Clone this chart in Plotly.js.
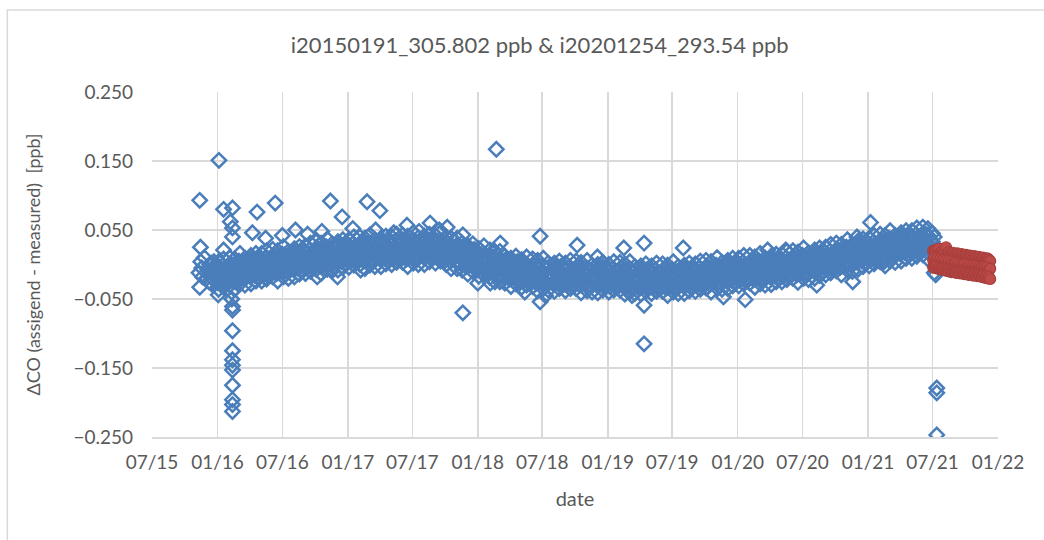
<!DOCTYPE html>
<html>
<head>
<meta charset="utf-8">
<script src="https://cdn.plot.ly/plotly-3.0.1.min.js"></script>
<style>
  body { margin: 0; background: #fff; }
  #chart { width: 1044px; height: 540px; }
</style>
</head>
<body>
<div id="chart"></div>
<script>
// i20150191 - regular measurements, 4 sampling days per month, 3 readings each
var blueMonths = [
  '2016-01','2016-02','2016-03','2016-04','2016-05','2016-06','2016-07','2016-08','2016-09','2016-10','2016-11','2016-12',
  '2017-01','2017-02','2017-03','2017-04','2017-05','2017-06','2017-07','2017-08','2017-09','2017-10','2017-11','2017-12',
  '2018-01','2018-02','2018-03','2018-04','2018-05','2018-06','2018-07','2018-08','2018-09','2018-10','2018-11','2018-12',
  '2019-01','2019-02','2019-03','2019-04','2019-05','2019-06','2019-07','2019-08','2019-09','2019-10','2019-11','2019-12',
  '2020-01','2020-02','2020-03','2020-04','2020-05','2020-06','2020-07','2020-08','2020-09','2020-10','2020-11','2020-12',
  '2021-01','2021-02','2021-03','2021-04','2021-05','2021-06'
];
var sampleDays = ['01', '08', '15', '22'];
var blueVals = [
  -0.003,-0.014,-0.026,-0.006,-0.018,-0.028,-0.002,-0.013,-0.025,-0.005,-0.017,-0.027,
  -0.002,-0.013,-0.024,0.001,-0.009,-0.021,-0.001,-0.012,-0.025,-0.004,-0.016,-0.023,
  0.005,-0.006,-0.018,0.003,-0.010,-0.020,0.001,-0.009,-0.021,0.004,-0.005,-0.017,
  0.006,-0.005,-0.017,0.007,-0.001,-0.015,0.005,-0.008,-0.016,0.008,-0.004,-0.018,
  0.009,-0.002,-0.014,0.006,-0.006,-0.016,0.010,-0.001,-0.013,0.007,-0.005,-0.015,
  0.010,-0.001,-0.012,0.013,0.003,-0.009,0.011,0.000,-0.013,0.008,-0.004,-0.011,
  0.015,0.004,-0.008,0.013,0.000,-0.010,0.011,0.001,-0.011,0.014,0.005,-0.007,
  0.016,0.005,-0.007,0.017,0.009,-0.005,0.015,0.002,-0.006,0.018,0.006,-0.008,
  0.020,0.009,-0.003,0.017,0.005,-0.005,0.021,0.010,-0.002,0.018,0.006,-0.004,
  0.021,0.010,-0.001,0.024,0.014,0.002,0.022,0.011,-0.002,0.019,0.007,0.000,
  0.026,0.015,0.003,0.024,0.011,0.001,0.022,0.012,0.000,0.025,0.016,0.004,
  0.026,0.015,0.003,0.027,0.019,0.005,0.025,0.012,0.004,0.028,0.016,0.002,
  0.029,0.018,0.006,0.026,0.014,0.004,0.030,0.019,0.007,0.027,0.015,0.005,
  0.028,0.017,0.006,0.031,0.021,0.009,0.029,0.018,0.005,0.026,0.014,0.007,
  0.032,0.021,0.009,0.030,0.017,0.007,0.028,0.018,0.006,0.031,0.022,0.010,
  0.031,0.020,0.008,0.032,0.024,0.010,0.030,0.017,0.009,0.033,0.021,0.007,
  0.033,0.022,0.010,0.030,0.018,0.008,0.034,0.023,0.011,0.031,0.019,0.009,
  0.031,0.020,0.009,0.034,0.024,0.012,0.032,0.021,0.008,0.029,0.017,0.010,
  0.035,0.024,0.012,0.033,0.020,0.010,0.031,0.021,0.009,0.034,0.025,0.013,
  0.034,0.023,0.011,0.035,0.027,0.013,0.033,0.020,0.012,0.036,0.024,0.010,
  0.035,0.024,0.012,0.032,0.020,0.010,0.036,0.025,0.013,0.033,0.021,0.011,
  0.028,0.017,0.006,0.031,0.021,0.009,0.029,0.018,0.005,0.026,0.014,0.007,
  0.027,0.016,0.004,0.025,0.012,0.002,0.023,0.013,0.001,0.026,0.017,0.005,
  0.020,0.009,-0.003,0.021,0.013,-0.001,0.019,0.006,-0.002,0.022,0.010,-0.004,
  0.016,0.005,-0.007,0.013,0.001,-0.009,0.017,0.006,-0.006,0.014,0.002,-0.008,
  0.009,-0.002,-0.013,0.012,0.002,-0.010,0.010,-0.001,-0.014,0.007,-0.005,-0.012,
  0.008,-0.003,-0.015,0.006,-0.007,-0.017,0.004,-0.006,-0.018,0.007,-0.002,-0.014,
  0.002,-0.009,-0.021,0.003,-0.005,-0.019,0.001,-0.012,-0.020,0.004,-0.008,-0.022,
  0.000,-0.011,-0.023,-0.003,-0.015,-0.025,0.001,-0.010,-0.022,-0.002,-0.014,-0.024,
  -0.004,-0.015,-0.026,-0.001,-0.011,-0.023,-0.003,-0.014,-0.027,-0.006,-0.018,-0.025,
  -0.002,-0.013,-0.025,-0.004,-0.017,-0.027,-0.006,-0.016,-0.028,-0.003,-0.012,-0.024,
  -0.005,-0.016,-0.028,-0.004,-0.012,-0.026,-0.006,-0.019,-0.027,-0.003,-0.015,-0.029,
  -0.005,-0.016,-0.028,-0.008,-0.020,-0.030,-0.004,-0.015,-0.027,-0.007,-0.019,-0.029,
  -0.007,-0.018,-0.029,-0.004,-0.014,-0.026,-0.006,-0.017,-0.030,-0.009,-0.021,-0.028,
  -0.005,-0.016,-0.028,-0.007,-0.020,-0.030,-0.009,-0.019,-0.031,-0.006,-0.015,-0.027,
  -0.007,-0.018,-0.030,-0.006,-0.014,-0.028,-0.008,-0.021,-0.029,-0.005,-0.017,-0.031,
  -0.007,-0.018,-0.030,-0.010,-0.022,-0.032,-0.006,-0.017,-0.029,-0.009,-0.021,-0.031,
  -0.009,-0.020,-0.031,-0.006,-0.016,-0.028,-0.008,-0.019,-0.032,-0.011,-0.023,-0.030,
  -0.007,-0.018,-0.030,-0.009,-0.022,-0.032,-0.011,-0.021,-0.033,-0.008,-0.017,-0.029,
  -0.009,-0.020,-0.032,-0.008,-0.016,-0.030,-0.010,-0.023,-0.031,-0.007,-0.019,-0.033,
  -0.009,-0.020,-0.032,-0.012,-0.024,-0.034,-0.008,-0.019,-0.031,-0.011,-0.023,-0.033,
  -0.011,-0.022,-0.033,-0.008,-0.018,-0.030,-0.010,-0.021,-0.034,-0.013,-0.025,-0.032,
  -0.007,-0.018,-0.030,-0.009,-0.022,-0.032,-0.011,-0.021,-0.033,-0.008,-0.017,-0.029,
  -0.008,-0.019,-0.031,-0.007,-0.015,-0.029,-0.009,-0.022,-0.030,-0.006,-0.018,-0.032,
  -0.006,-0.017,-0.029,-0.009,-0.021,-0.031,-0.005,-0.016,-0.028,-0.008,-0.020,-0.030,
  -0.006,-0.017,-0.028,-0.003,-0.013,-0.025,-0.005,-0.016,-0.029,-0.008,-0.020,-0.027,
  -0.001,-0.012,-0.024,-0.003,-0.016,-0.026,-0.005,-0.015,-0.027,-0.002,-0.011,-0.023,
  -0.001,-0.012,-0.024,0.000,-0.008,-0.022,-0.002,-0.015,-0.023,0.001,-0.011,-0.025,
  0.002,-0.009,-0.021,-0.001,-0.013,-0.023,0.003,-0.008,-0.020,0.000,-0.012,-0.022,
  0.001,-0.010,-0.021,0.004,-0.006,-0.018,0.002,-0.009,-0.022,-0.001,-0.013,-0.020,
  0.005,-0.006,-0.018,0.003,-0.010,-0.020,0.001,-0.009,-0.021,0.004,-0.005,-0.017,
  0.005,-0.006,-0.018,0.006,-0.002,-0.016,0.004,-0.009,-0.017,0.007,-0.005,-0.019,
  0.008,-0.003,-0.015,0.005,-0.007,-0.017,0.009,-0.002,-0.014,0.006,-0.006,-0.016,
  0.008,-0.003,-0.014,0.011,0.001,-0.011,0.009,-0.002,-0.015,0.006,-0.006,-0.013,
  0.013,0.002,-0.010,0.011,-0.002,-0.012,0.009,-0.001,-0.013,0.012,0.003,-0.009,
  0.014,0.003,-0.009,0.015,0.007,-0.007,0.013,0.000,-0.008,0.016,0.004,-0.010,
  0.018,0.007,-0.005,0.015,0.003,-0.007,0.019,0.008,-0.004,0.016,0.004,-0.006,
  0.019,0.008,-0.003,0.022,0.012,0.000,0.020,0.009,-0.004,0.017,0.005,-0.002,
  0.025,0.014,0.002,0.023,0.010,0.000,0.021,0.011,-0.001,0.024,0.015,0.003,
  0.027,0.016,0.004,0.028,0.020,0.006,0.026,0.013,0.005,0.029,0.017,0.003,
  0.031,0.020,0.008,0.028,0.016,0.006,0.032,0.021,0.009,0.029,0.017,0.007,
  0.032,0.021,0.010,0.035,0.025,0.013,0.033,0.022,0.009,0.030,0.018,0.011,
  0.038,0.027,0.015,0.036,0.023,0.013,0.034,0.024,0.012,0.037,0.028,0.016,
  0.039,0.028,0.016,0.040,0.032,0.018,0.038,0.025,0.017,0.041,0.029,0.015,
  0.042,0.031,0.019,0.039,0.027,0.017,0.043,0.032,0.020,0.040,0.028,0.018,
  0.042,0.031,0.020,0.045,0.035,0.023,0.043,0.032,0.019,0.040,0.028,0.021
];

// i20150191 - edge readings (high, low) on two more days per month
var edgeDays = ['04', '18'];
var blueEdgeVals = [
  0.004,-0.036,0.008,-0.033,   0.010,-0.030,0.008,-0.036,   0.016,-0.028,0.009,-0.030,
  0.013,-0.028,0.016,-0.024,   0.016,-0.024,0.020,-0.021,   0.022,-0.018,0.020,-0.024,
  0.026,-0.018,0.019,-0.020,   0.023,-0.018,0.026,-0.014,   0.027,-0.013,0.031,-0.010,
  0.033,-0.007,0.031,-0.013,   0.037,-0.007,0.030,-0.009,   0.033,-0.008,0.036,-0.004,
  0.036,-0.004,0.040,-0.001,   0.040,0.000,0.038,-0.006,    0.043,-0.001,0.036,-0.003,
  0.038,-0.003,0.041,0.001,    0.040,0.000,0.044,0.003,     0.043,0.003,0.041,-0.003,
  0.046,0.002,0.039,0.000,     0.041,0.000,0.044,0.004,     0.042,0.002,0.046,0.005,
  0.040,0.000,0.038,-0.006,    0.038,-0.006,0.031,-0.008,   0.027,-0.014,0.030,-0.010,
  0.023,-0.017,0.027,-0.014,   0.021,-0.019,0.019,-0.025,   0.019,-0.025,0.012,-0.027,
  0.009,-0.032,0.012,-0.028,   0.007,-0.033,0.011,-0.030,   0.008,-0.032,0.006,-0.038,
  0.009,-0.035,0.002,-0.037,   0.002,-0.039,0.005,-0.035,   0.002,-0.038,0.006,-0.035,
  0.005,-0.035,0.003,-0.041,   0.006,-0.038,-0.001,-0.040,  0.000,-0.041,0.003,-0.037,
  0.000,-0.040,0.004,-0.037,   0.003,-0.037,0.001,-0.043,   0.004,-0.040,-0.003,-0.042,
  -0.002,-0.043,0.001,-0.039,  -0.002,-0.042,0.002,-0.039,  0.001,-0.039,-0.001,-0.045,
  0.004,-0.040,-0.003,-0.042,  -0.001,-0.042,0.002,-0.038,  0.001,-0.039,0.005,-0.036,
  0.006,-0.034,0.004,-0.040,   0.010,-0.034,0.003,-0.036,   0.006,-0.035,0.009,-0.031,
  0.009,-0.031,0.013,-0.028,   0.013,-0.027,0.011,-0.033,   0.016,-0.028,0.009,-0.030,
  0.012,-0.029,0.015,-0.025,   0.015,-0.025,0.019,-0.022,   0.020,-0.020,0.018,-0.026,
  0.024,-0.020,0.017,-0.022,   0.021,-0.020,0.024,-0.016,   0.025,-0.015,0.029,-0.012,
  0.031,-0.009,0.029,-0.015,   0.036,-0.008,0.029,-0.010,   0.034,-0.007,0.037,-0.003,
  0.038,-0.002,0.042,0.001,    0.044,0.004,0.042,-0.002,    0.049,0.005,0.042,0.003,
  0.046,0.005,0.049,0.009,     0.049,0.009,0.053,0.012,     0.054,0.014,0.052,0.008
];

// i20150191 - start-up readings and scattered outliers
var blueExtraDates = [
  '2015-11-10','2015-11-12','2015-11-12','2015-11-14','2015-11-15','2015-11-18','2015-11-20','2015-11-25',
  '2015-12-01','2015-12-05','2015-12-08','2015-12-10',
  '2015-12-15','2015-12-15','2015-12-15','2015-12-15','2015-12-22','2015-12-22','2015-12-22','2015-12-22',
  '2016-01-03','2016-01-05','2016-01-18','2016-01-18','2016-02-06',
  '2016-02-10','2016-02-10','2016-02-12','2016-02-12','2016-02-12','2016-02-12','2016-02-12','2016-02-12','2016-02-12',
  '2016-02-12','2016-02-12','2016-02-12','2016-02-12','2016-02-12','2016-02-12','2016-02-12',
  '2016-04-08','2016-04-21','2016-05-15','2016-06-11','2016-07-01','2016-08-07','2016-09-10','2016-10-07',
  '2016-10-20','2016-11-13','2016-12-03','2016-12-16','2017-01-15','2017-02-06','2017-02-24','2017-03-20',
  '2017-04-01','2017-05-10','2017-06-16','2017-07-20','2017-08-20','2017-09-15','2017-10-07','2017-11-20',
  '2017-11-20','2018-01-01','2018-02-05','2018-02-22','2018-03-05','2018-05-13','2018-06-25','2018-06-25',
  '2018-07-10','2018-10-07','2018-12-03','2019-02-15','2019-03-10','2019-04-13','2019-04-13','2019-04-13',
  '2019-08-01','2019-10-07','2019-11-22','2020-01-22','2020-03-25','2020-05-15','2020-08-10','2020-11-19',
  '2020-12-01','2021-01-08','2021-02-15',
  '2021-07-01','2021-07-01','2021-07-01','2021-07-06','2021-07-06','2021-07-06','2021-07-10',
  '2021-07-13','2021-07-13','2021-07-13'
];
var blueExtraVals = [
  -0.012,0.093,-0.033,0.025,0.004,-0.005,-0.018,0.010,
  -0.020,-0.008,-0.025,0.000,
  -0.019,-0.008,0.002,-0.028,-0.022,-0.006,-0.016,0.004,
  -0.044,0.151,0.021,0.080,0.062,
  -0.040,-0.050,0.053,0.040,0.082,-0.061,-0.066,-0.096,-0.125,
  -0.138,-0.146,-0.153,-0.175,-0.196,-0.203,-0.213,
  0.046,0.076,0.038,0.089,0.042,0.050,0.044,-0.018,
  0.048,0.092,-0.018,0.069,0.052,-0.008,0.091,0.050,
  0.078,0.046,0.057,0.048,0.060,0.050,0.054,0.043,
  -0.070,-0.027,-0.027,0.167,0.031,-0.040,0.041,-0.054,
  -0.045,0.028,0.011,0.024,-0.045,0.031,-0.059,-0.115,
  0.024,-0.033,-0.047,-0.051,0.021,0.021,-0.030,-0.025,
  0.040,0.061,0.004,
  0.045,0.033,0.022,0.040,0.028,-0.012,-0.015,
  -0.179,-0.186,-0.247
];

// i20201254 - three readings per sampling day
var redDates = [
  '2021-07-03','2021-07-07','2021-07-11','2021-07-15','2021-07-19','2021-07-23','2021-07-27','2021-07-31',
  '2021-08-04','2021-08-08','2021-08-12','2021-08-16','2021-08-20','2021-08-24','2021-08-28',
  '2021-09-01','2021-09-05','2021-09-09','2021-09-13','2021-09-17','2021-09-21','2021-09-25','2021-09-29',
  '2021-10-03','2021-10-07','2021-10-11','2021-10-15','2021-10-19','2021-10-23','2021-10-27','2021-10-31',
  '2021-11-04','2021-11-08','2021-11-12','2021-11-16','2021-11-20','2021-11-24','2021-11-28',
  '2021-12-02','2021-12-06','2021-12-10'
];
var redHigh = [
  0.020,0.019,0.021,0.018,0.023,0.017,0.019,0.016,
  0.018,0.025,0.016,0.018,0.015,0.014,0.017,
  0.015,0.013,0.016,0.014,0.012,0.015,0.013,0.011,
  0.014,0.012,0.010,0.013,0.011,0.009,0.012,0.010,
  0.008,0.011,0.009,0.007,0.010,0.008,0.006,
  0.009,0.007,0.005
];
var redMid = [
  0.006,0.010,0.005,0.009,0.004,0.008,0.003,0.007,
  0.002,0.006,0.001,0.005,0.000,0.004,0.001,
  -0.001,0.003,-0.002,0.002,-0.003,0.001,-0.003,0.001,
  -0.004,0.000,-0.004,-0.001,-0.005,-0.001,-0.005,-0.002,
  -0.006,-0.003,-0.006,-0.004,-0.007,-0.003,-0.008,
  -0.004,-0.008,-0.006
];
var redLow = [
  -0.004,-0.005,-0.003,-0.006,-0.005,-0.007,-0.006,-0.008,
  -0.007,-0.009,-0.008,-0.010,-0.009,-0.011,-0.010,
  -0.011,-0.012,-0.010,-0.012,-0.013,-0.011,-0.013,-0.014,
  -0.012,-0.014,-0.015,-0.013,-0.015,-0.016,-0.014,-0.016,
  -0.017,-0.015,-0.017,-0.018,-0.016,-0.019,-0.017,
  -0.020,-0.018,-0.021
];

var blueX = [], blueY = [];
var n = 0, e = 0;
blueMonths.forEach(function (m) {
  sampleDays.forEach(function (d) {
    for (var k = 0; k < 3; k++) {
      blueX.push(m + '-' + d);
      blueY.push(blueVals[n++]);
    }
  });
  edgeDays.forEach(function (d) {
    for (var k = 0; k < 2; k++) {
      blueX.push(m + '-' + d);
      blueY.push(blueEdgeVals[e++]);
    }
  });
});
blueX = blueExtraDates.concat(blueX);
blueY = blueExtraVals.concat(blueY);

var redX = redDates.concat(redDates, redDates);
var redY = redHigh.concat(redMid, redLow);

var grey = '#595959';
var gridCol = '#d9d9d9';
var fontFam = 'Lato, "Open Sans", sans-serif';

var data = [{
  type: 'scatter', mode: 'markers', name: 'i20150191',
  x: blueX, y: blueY,
  marker: {symbol: 'diamond-open', size: 11, color: '#4A7EBB', line: {width: 2.5, color: '#4A7EBB'}}
}, {
  type: 'scatter', mode: 'markers', name: 'i20201254',
  x: redX, y: redY,
  marker: {symbol: 'circle', size: 11, color: '#BE4B48', line: {width: 1.2, color: '#A83F3C'}}
}];

var layout = {
  width: 1044, height: 540,
  margin: {l: 152, r: 46, t: 92, b: 103},
  paper_bgcolor: '#fff', plot_bgcolor: '#fff',
  showlegend: false,
  font: {family: fontFam, color: grey, size: 19},
  title: {
    text: 'i20150191_305.802 ppb &amp; i20201254_293.54 ppb',
    font: {size: 22, color: grey},
    xref: 'container', yref: 'container', x: 0.517, y: 0.917, xanchor: 'center', yanchor: 'middle'
  },
  xaxis: {
    type: 'date',
    range: ['2015-07-01', '2022-01-01'],
    tick0: '2015-07-01', dtick: 'M6', tickformat: '%m/%y',
    showgrid: true, gridcolor: gridCol, gridwidth: 1.5,
    showline: true, linecolor: gridCol, linewidth: 1.5,
    zeroline: false, ticks: '', ticklabelstandoff: 8,
    tickfont: {size: 19, color: grey},
    title: {text: 'date', font: {size: 20, color: grey}, standoff: 19},
    automargin: false
  },
  yaxis: {
    range: [-0.25, 0.25],
    tick0: 0.05, dtick: 0.1, tickformat: '.3f',
    showgrid: true, gridcolor: gridCol, gridwidth: 1.5,
    showline: false, zeroline: false, ticks: '', ticklabelstandoff: 18,
    tickfont: {size: 19, color: grey},
    title: {text: '\u0394CO (assigend - measured)\u00a0 [ppb]', font: {size: 18, color: grey}, standoff: 28},
    automargin: false
  },
  shapes: [{
    type: 'rect', xref: 'paper', yref: 'paper',
    x0: -0.171, x1: 1.08, y0: -0.35, y1: 1.238,
    line: {color: gridCol, width: 1.5}
  }]
};

Plotly.newPlot('chart', data, layout, {staticPlot: true, displayModeBar: false});
</script>
</body>
</html>
